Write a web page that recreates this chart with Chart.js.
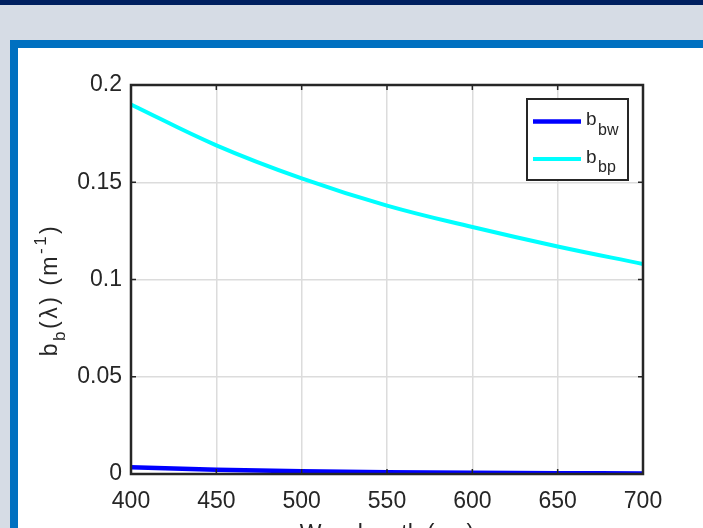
<!DOCTYPE html>
<html>
<head>
<meta charset="utf-8">
<script src="https://cdn.jsdelivr.net/npm/chart.js@4/dist/chart.umd.min.js"></script>
<style>
  html, body { margin:0; padding:0; }
  body { width:703px; height:528px; overflow:hidden; background:#d6dce5; position:relative; font-family:"Liberation Sans", Arial, sans-serif; }
  #topbar { position:absolute; left:0; top:0; width:703px; height:5px; background:#002060; }
  #frame { position:absolute; left:10px; top:40px; width:720px; height:520px; background:#fff; border:8px solid #0070c0; box-sizing:border-box; }
  #wrap { position:absolute; left:0; top:0; width:703px; height:528px; }
</style>
</head>
<body>
<div id="topbar"></div>
<div id="frame"></div>
<div id="wrap"><canvas id="grafica"></canvas></div>
<script>
// ---- datos
const longitudes = [400, 450, 500, 550, 600, 650, 700];
const bbw = [0.0035, 0.0022, 0.0014, 0.0009, 0.0006, 0.0004, 0.0003];
const bbp = [0.190, 0.169, 0.152, 0.138, 0.127, 0.117, 0.108];
const ticksX = [400, 450, 500, 550, 600, 650, 700];
const ticksY = [0, 0.05, 0.1, 0.15, 0.2];
const nombres = ["bw", "bp"];
const colores = ["#0000ff", "#00ffff"];

const fuente = '"Liberation Sans", Arial, sans-serif';
const gris = "#262626";
Chart.defaults.font.family = fuente;

function puntos(vals) {
    return longitudes.map((x, i) => ({x: x, y: vals[i]}));
}

// caja, ticks interiores, leyenda y titulos con subindices
const extras = {
    id: "extras",
    afterDatasetsDraw(chart) {
        const ctx = chart.ctx;
        const a = chart.chartArea;
        const sx = chart.scales.x, sy = chart.scales.y;
        ctx.save();
        ctx.strokeStyle = gris;
        ctx.lineWidth = 1.5;
        ticksX.forEach(v => {
            const px = sx.getPixelForValue(v);
            ctx.beginPath(); ctx.moveTo(px, a.bottom); ctx.lineTo(px, a.bottom - 5); ctx.stroke();
            ctx.beginPath(); ctx.moveTo(px, a.top); ctx.lineTo(px, a.top + 5); ctx.stroke();
        });
        ticksY.forEach(v => {
            const py = sy.getPixelForValue(v);
            ctx.beginPath(); ctx.moveTo(a.left, py); ctx.lineTo(a.left + 5, py); ctx.stroke();
            ctx.beginPath(); ctx.moveTo(a.right, py); ctx.lineTo(a.right - 5, py); ctx.stroke();
        });
        ctx.lineWidth = 2.5;
        ctx.strokeRect(a.left, a.top, a.right - a.left, a.bottom - a.top);

        // leyenda
        const lx = 527, ly = 99, lw = 101, lh = 81;
        ctx.fillStyle = "#fff";
        ctx.fillRect(lx, ly, lw, lh);
        ctx.lineWidth = 2;
        ctx.strokeRect(lx, ly, lw, lh);
        chart.data.datasets.forEach((d, i) => {
            const yy = ly + 22.5 + i * 37.5;
            ctx.strokeStyle = d.borderColor;
            ctx.lineWidth = d.borderWidth;
            ctx.beginPath(); ctx.moveTo(lx + 6, yy); ctx.lineTo(lx + 54, yy); ctx.stroke();
            ctx.fillStyle = gris;
            ctx.textBaseline = "alphabetic";
            ctx.textAlign = "left";
            ctx.font = "19px " + fuente;
            ctx.fillText("b", lx + 59, yy + 3.5);
            ctx.font = "16px " + fuente;
            ctx.fillText(nombres[i], lx + 71, yy + 13);
        });

        // titulo eje y
        ctx.save();
        ctx.translate(57, 290);
        ctx.rotate(-Math.PI / 2);
        ctx.fillStyle = gris;
        ctx.textBaseline = "alphabetic";
        ctx.letterSpacing = "2.5px";
        const partes = [
            ["b", 23, 0], ["b", 17, 8], ["(\u03bb)", 23, 0], [" (m", 23, 0], ["-1", 17, -11], [")", 23, 0]
        ];
        let total = 0;
        partes.forEach(p => { ctx.font = p[1] + "px " + fuente; total += ctx.measureText(p[0]).width; });
        let cx = -total / 2;
        partes.forEach(p => {
            ctx.font = p[1] + "px " + fuente;
            ctx.fillText(p[0], cx, p[2]);
            cx += ctx.measureText(p[0]).width;
        });
        ctx.restore();

        // titulo eje x (cortado abajo)
        ctx.fillStyle = gris;
        ctx.font = "23px " + fuente;
        ctx.textAlign = "center";
        ctx.textBaseline = "top";
        ctx.fillText("Wavelength (nm)", (a.left + a.right) / 2, 523);
        ctx.restore();
    }
};

new Chart(document.getElementById("grafica"), {
    type: "line",
    data: {
        datasets: [
            { label: nombres[0], data: puntos(bbw), borderColor: colores[0], borderWidth: 4.5, pointRadius: 0, tension: 0.4, fill: false },
            { label: nombres[1], data: puntos(bbp), borderColor: colores[1], borderWidth: 4, pointRadius: 0, tension: 0.4, fill: false }
        ]
    },
    options: {
        responsive: true,
        maintainAspectRatio: false,
        animation: false,
        layout: { padding: { top: 85, right: 60, bottom: 0, left: 0 } },
        plugins: { legend: { display: false }, tooltip: { enabled: false } },
        scales: {
            x: {
                type: "linear", min: 400, max: 700,
                afterFit: s => { s.height = 54; },
                afterBuildTicks: s => { s.ticks = ticksX.map(v => ({value: v})); },
                ticks: { color: gris, font: { size: 23 }, padding: 14, maxRotation: 0 },
                grid: { color: "#dcdcdc", lineWidth: 1.5, drawTicks: false },
                border: { display: false }
            },
            y: {
                min: 0, max: 0.2,
                afterFit: s => { s.width = 131; },
                afterBuildTicks: s => { s.ticks = ticksY.map(v => ({value: v})); },
                ticks: { color: gris, font: { size: 23 }, padding: 9, callback: v => String(+v.toFixed(2)) },
                grid: { color: "#dcdcdc", lineWidth: 1.5, drawTicks: false },
                border: { display: false }
            }
        }
    },
    plugins: [extras]
});
</script>
</body>
</html>
